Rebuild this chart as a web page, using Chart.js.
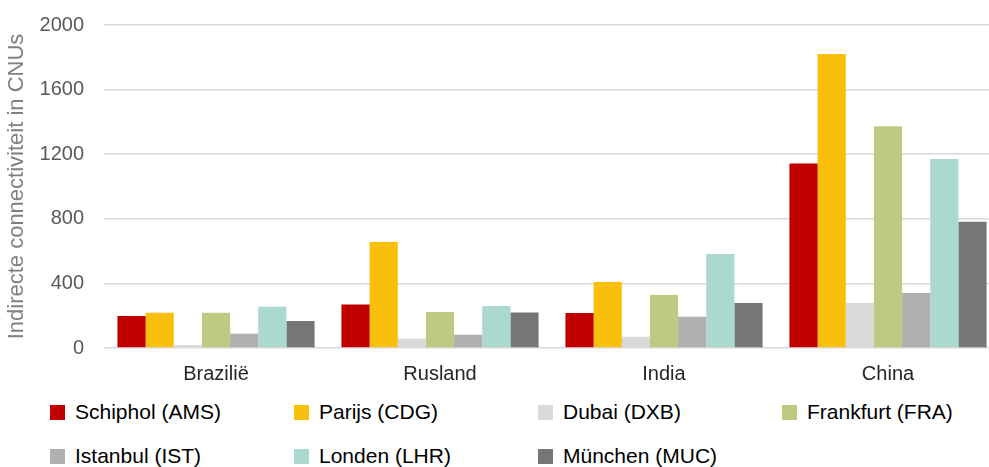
<!DOCTYPE html>
<html>
<head>
<meta charset="utf-8">
<script src="https://cdn.jsdelivr.net/npm/chart.js@4/dist/chart.umd.min.js"></script>
<style>
  html, body { margin: 0; padding: 0; background: #fff; overflow: hidden; }
  #wrap { position: relative; width: 989px; height: 467px; overflow: hidden; }
  #chart-box { position: absolute; left: 0; top: -7px; width: 1000px; height: 407px; }
  #legend { position: absolute; left: 50px; top: 400px; width: 980px; }
  .leg-item { position: absolute; display: flex; align-items: center; font: 21px "Liberation Sans", Arial, sans-serif; color: #000; white-space: nowrap; }
  .leg-box { width: 15px; height: 15px; margin-right: 10px; }
</style>
</head>
<body>
<div id="wrap">
  <div id="chart-box"><canvas id="grafiek" width="1000" height="407"></canvas></div>
  <div id="legend"></div>
</div>
<script>
// Gegevens
const landen = ['Brazilië', 'Rusland', 'India', 'China'];
const luchthavens = ['Schiphol (AMS)', 'Parijs (CDG)', 'Dubai (DXB)', 'Frankfurt (FRA)', 'Istanbul (IST)', 'Londen (LHR)', 'München (MUC)'];
const schiphol  = [198, 270, 217, 1143];
const parijs    = [219, 656, 409, 1820];
const dubai     = [18, 58, 70, 279];
const frankfurt = [219, 223, 328, 1373];
const istanbul  = [89, 82, 194, 341];
const londen    = [256, 260, 582, 1170];
const munchen   = [167, 220, 279, 782];
const yTicks = [0, 400, 800, 1200, 1600, 2000];

const kleuren = ['#C00000', '#F8C00A', '#D9D9D9', '#BDCA81', '#B0B0B0', '#ABD9CF', '#767676'];
const reeksen = [schiphol, parijs, dubai, frankfurt, istanbul, londen, munchen];

const font = '"Liberation Sans", Arial, sans-serif';

const datasets = reeksen.map((waarden, i) => ({
    label: luchthavens[i],
    data: waarden,
    backgroundColor: kleuren[i],
    borderWidth: 0,
    categoryPercentage: 0.88,
    barPercentage: 1.0
}));

new Chart(document.getElementById('grafiek'), {
    type: 'bar',
    data: { labels: landen, datasets: datasets },
    options: {
        responsive: false,
        animation: false,
        layout: { padding: { left: 0, right: 0, top: 10, bottom: 0 } },
        plugins: {
            legend: { display: false },
            tooltip: { enabled: false }
        },
        scales: {
            x: {
                grid: { display: false, drawTicks: false },
                border: { display: false },
                ticks: { color: '#262626', font: { family: font, size: 20 }, padding: 14 }
            },
            y: {
                min: 0,
                max: 2000,
                afterBuildTicks: (s) => { s.ticks = yTicks.map(v => ({ value: v })); },
                afterFit: (s) => { s.width = 104; },
                grid: { color: '#D9D9D9', lineWidth: 1.5, drawTicks: false },
                border: { display: false },
                ticks: {
                    color: '#595959',
                    font: { family: font, size: 20 },
                    padding: 20,
                    callback: (v) => String(v)
                },
                title: {
                    display: true,
                    text: 'Indirecte connectiviteit in CNUs',
                    color: '#808080',
                    font: { family: font, size: 22 },
                    padding: { top: 4, bottom: 6 }
                }
            }
        }
    }
});

// Legenda in twee rijen
const legendEl = document.getElementById('legend');
luchthavens.forEach((naam, i) => {
    const item = document.createElement('div');
    item.className = 'leg-item';
    item.style.left = ((i % 4) * 244) + 'px';
    item.style.top = (Math.floor(i / 4) * 44) + 'px';
    item.innerHTML = `<span class="leg-box" style="background:${kleuren[i]}"></span>${naam}`;
    legendEl.appendChild(item);
});
</script>
</body>
</html>
